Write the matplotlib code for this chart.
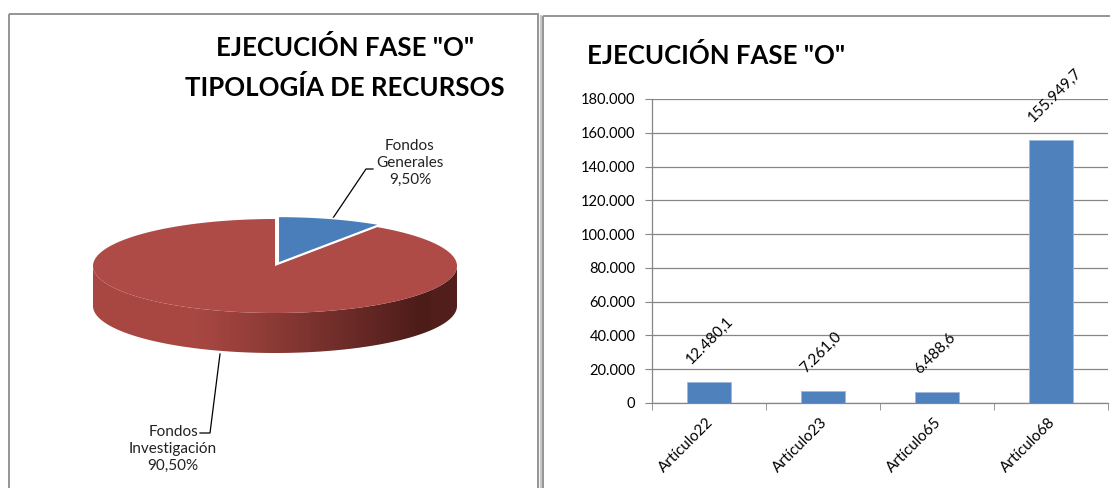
import numpy as np
import matplotlib.pyplot as plt
from matplotlib.patches import Polygon, Rectangle
from matplotlib.ticker import FuncFormatter, FixedLocator
from matplotlib.transforms import ScaledTranslation

plt.rcParams['font.family'] = ['Lato', 'DejaVu Sans']

# pie data
pie_labels = ['Fondos\nGenerales', 'Fondos\nInvestigación']
pie_shares = [9.50, 90.50]
pie_colors = ['#4A7EBB', '#AE4B47']

# bar data
categories = ['Artículo22', 'Artículo23', 'Artículo65', 'Artículo68']
values = [12480.1, 7261.0, 6488.6, 155949.7]
value_labels = ['12.480,1', '7.261,0', '6.488,6', '155.949,7']
yticks = [0, 20000, 40000, 60000, 80000, 100000, 120000, 140000, 160000, 180000]

W, H = 1110, 488
fig = plt.figure(figsize=(W / 100, H / 100), dpi=100)

# panel borders
bg = fig.add_axes([0, 0, 1, 1])
bg.set_xlim(0, W)
bg.set_ylim(H, 0)
bg.axis('off')
bg.add_patch(Rectangle((8.5, 13.5), 529, 480, fill=False, ec='#8c8c8c', lw=1.3))
bg.add_patch(Rectangle((539.5, 14.5), 1, 480, fill=False, ec='#c8c8c8', lw=1))
bg.add_patch(Rectangle((542.5, 15.5), 580, 480, fill=False, ec='#8c8c8c', lw=1.3))

# left panel: 3D pie
ax = fig.add_axes([0, 0, 540 / W, 1])
ax.set_xlim(0, 540)
ax.set_ylim(H, 0)
ax.axis('off')

cx, cy, rx, ry, depth = 275, 266, 182, 47, 40


def arc(t0, t1, n=200, off=(0, 0)):
    t = np.radians(np.linspace(t0, t1, n))
    return np.column_stack([cx + off[0] + rx * np.cos(t), cy + off[1] - ry * np.sin(t)])


blue_end = 90
blue_start = 90 - 360 * pie_shares[0] / 100
red_end = blue_start + 360

# front wall of the big slice, shaded
top = arc(180, 360)
bot = top + [0, depth]
wall = np.vstack([top, bot[::-1]])
wall_patch = Polygon(wall, closed=True, fc='none', ec='none')
ax.add_patch(wall_patch)
xs = np.linspace(0, 1, 400)
c1 = np.array([0.66, 0.28, 0.26])
c2 = np.array([0.30, 0.11, 0.10])
k = np.clip((xs - 0.28) / 0.62, 0, 1) ** 1.1
cols = c1[None, :] * (1 - k[:, None]) + c2[None, :] * k[:, None]
cols[xs > 0.93] = cols[xs > 0.93] * 1.08
grad = np.tile(cols[None, :, :], (10, 1, 1))
im = ax.imshow(grad, extent=(cx - rx, cx + rx, cy + ry + depth + 2, cy - 2),
               aspect='auto', interpolation='bilinear', zorder=1)
im.set_clip_path(wall_patch)

# top faces
red_pts = np.vstack([[cx, cy], arc(blue_end, red_end)])
ax.add_patch(Polygon(red_pts, closed=True, fc=pie_colors[1], ec='none', zorder=2))
mid = np.radians((blue_start + blue_end) / 2)
off = (0.06 * rx * np.cos(mid), -0.06 * ry * np.sin(mid))
blue_pts = np.vstack([[cx + off[0], cy + off[1]], arc(blue_start, blue_end, off=off)])
ax.add_patch(Polygon(blue_pts, closed=True, fc=pie_colors[0], ec='white', lw=1.2, zorder=3))

# labels + leaders
ax.text(410, 163, pie_labels[0] + '\n' + f'{pie_shares[0]:.2f}'.replace('.', ',') + '%',
        ha='center', va='center', fontsize=11, linespacing=1.3, color='#222222')
ax.plot([373, 366, 333], [169, 169, 218], color='black', lw=0.9)
ax.text(173, 449, pie_labels[1] + '\n' + f'{pie_shares[1]:.2f}'.replace('.', ',') + '%',
        ha='center', va='center', fontsize=11, linespacing=1.3, color='#222222')
ax.plot([200, 210, 220], [433, 433, 354], color='black', lw=0.9)

ax.text(345, 48, 'EJECUCIÓN FASE "O"', ha='center', va='center', fontsize=18.5,
        fontweight='bold', color='black')
ax.text(345, 88, 'TIPOLOGÍA DE RECURSOS', ha='center', va='center', fontsize=18.5,
        fontweight='bold', color='black')

# right panel: bars
bx = fig.add_axes([652 / W, 1 - 403 / H, 456 / W, 304 / H])
x = np.arange(len(categories))
bx.bar(x, values, width=0.39, color='#4F81BD', edgecolor='#9DB9DC', lw=0.6, zorder=3)
bx.set_xlim(-0.5, len(categories) - 0.5)
bx.set_ylim(0, 180000)
bx.yaxis.set_major_locator(FixedLocator(yticks))
bx.yaxis.set_major_formatter(FuncFormatter(lambda v, p: f'{int(v):,}'.replace(',', '.')))
bx.grid(axis='y', color='#868686', lw=0.9, zorder=0)
for s in ['top', 'right']:
    bx.spines[s].set_visible(False)
for s in ['left', 'bottom']:
    bx.spines[s].set_color('#868686')
    bx.spines[s].set_linewidth(0.9)
bx.tick_params(axis='y', length=5, color='#868686', labelsize=10.5, pad=7)
bx.set_xticks(x)
bx.set_xticklabels(categories, rotation=45, ha='right', rotation_mode='anchor', fontsize=11)
bx.tick_params(axis='x', length=0, pad=9)
shift = ScaledTranslation(-3 / 100, 0, fig.dpi_scale_trans)
for lbl in bx.get_xticklabels():
    lbl.set_transform(lbl.get_transform() + shift)
bx.set_xticks(np.arange(-0.5, len(categories)), minor=True)
bx.tick_params(axis='x', which='minor', length=5, color='#868686')
for xi, v, lab in zip(x, values, value_labels):
    bx.annotate(lab, (xi, v), xytext=(-11, 11), textcoords='offset points',
                rotation=45, ha='left', va='bottom', rotation_mode='anchor', fontsize=11)

bg.text(587, 55, 'EJECUCIÓN FASE "O"', ha='left', va='center', fontsize=18.5,
        fontweight='bold', color='black')

fig.savefig('out.png', dpi=100, facecolor='white')
